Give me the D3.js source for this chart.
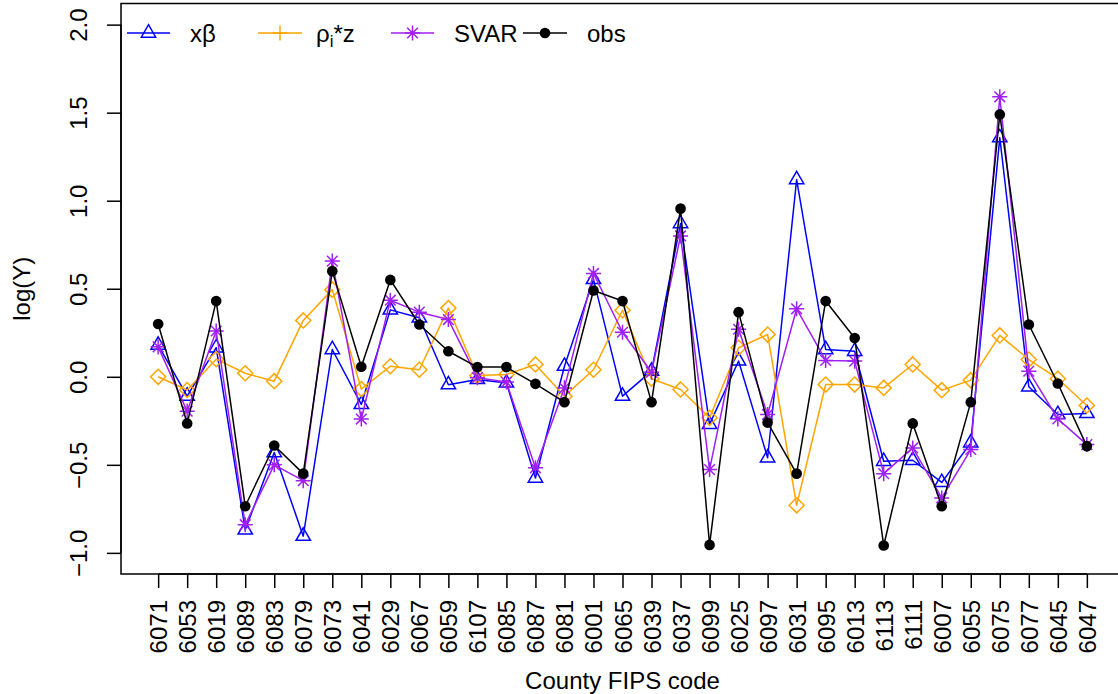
<!DOCTYPE html>
<html>
<head>
<meta charset="utf-8">
<script src="https://cdn.jsdelivr.net/npm/d3@7"></script>
<style>
  html, body { margin: 0; padding: 0; background: #fff; }
  svg { display: block; font-family: "Liberation Sans", Arial, Helvetica, sans-serif; }
</style>
</head>
<body>
<svg id="chart" width="1118" height="694"></svg>
<script>
// ---- data ----
const counties = ["6071","6053","6019","6089","6083","6079","6073","6041","6029","6067","6059","6107","6085","6087","6081","6001","6065","6039","6037","6099","6025","6097","6031","6095","6013","6113","6111","6007","6055","6075","6077","6045","6047"];
const xbeta = [0.18, -0.11, 0.165, -0.87, -0.43, -0.905, 0.155, -0.157, 0.38, 0.335, -0.045, -0.015, -0.035, -0.575, 0.06, 0.553, -0.11, 0.032, 0.87, -0.27, 0.09, -0.46, 1.12, 0.155, 0.145, -0.48, -0.474, -0.6, -0.375, 1.358, -0.057, -0.214, -0.208];
const rhoz  = [0.0, -0.075, 0.10, 0.02, -0.025, 0.32, 0.495, -0.07, 0.06, 0.04, 0.39, 0.007, 0.013, 0.07, -0.11, 0.04, 0.378, -0.011, -0.072, -0.233, 0.165, 0.24, -0.73, -0.044, -0.044, -0.063, 0.07, -0.076, -0.019, 0.235, 0.098, -0.011, -0.163];
const svar  = [0.17, -0.195, 0.26, -0.84, -0.50, -0.59, 0.657, -0.24, 0.435, 0.367, 0.325, -0.005, -0.03, -0.517, -0.063, 0.587, 0.253, 0.026, 0.80, -0.527, 0.27, -0.214, 0.386, 0.093, 0.089, -0.55, -0.404, -0.688, -0.413, 1.59, 0.032, -0.239, -0.385];
const obs   = [0.30, -0.265, 0.43, -0.735, -0.39, -0.55, 0.60, 0.057, 0.55, 0.297, 0.145, 0.055, 0.055, -0.04, -0.144, 0.49, 0.43, -0.144, 0.955, -0.955, 0.367, -0.26, -0.55, 0.43, 0.22, -0.958, -0.265, -0.735, -0.144, 1.49, 0.297, -0.038, -0.394];
const yTicks = [-1.0, -0.5, 0.0, 0.5, 1.0, 1.5, 2.0];
const yLimits = [-1, 2];

// ---- layout ----
const svg = d3.select("#chart");
const plot = {left: 121, right: 1124, top: 3.5, bottom: 574};
const n = counties.length;
const xExt = (n - 1) * 0.04, yExt = (yLimits[1] - yLimits[0]) * 0.04;
const x = d3.scaleLinear().domain([1 - xExt, n + xExt]).range([plot.left, plot.right]);
const y = d3.scaleLinear().domain([yLimits[0] - yExt, yLimits[1] + yExt]).range([plot.bottom, plot.top]);
const FS = 24;
const LW = 1.5;
const S = 5.33; // RADIUS * size

const colors = {xb: "#0000FF", rz: "#FFA500", sv: "#A020F0", ob: "#000000"};

// marker path generators
function triPath(cx, cy) {
  const r = 1.55512 * S, yc = r / 2, xc = 1.55512 * Math.sqrt(3) / 2 * S;
  return `M${cx},${cy - r}L${cx + xc},${cy + yc}L${cx - xc},${cy + yc}Z`;
}
function diaPath(cx, cy) {
  const r = Math.SQRT2 * S;
  return `M${cx},${cy - r}L${cx + r},${cy}L${cx},${cy + r}L${cx - r},${cy}Z`;
}
function plusPath(cx, cy) {
  const r = Math.SQRT2 * S;
  return `M${cx - r},${cy}L${cx + r},${cy}M${cx},${cy - r}L${cx},${cy + r}`;
}
function starPath(cx, cy) {
  const r = S;
  return plusPath(cx, cy) + `M${cx - r},${cy - r}L${cx + r},${cy + r}M${cx - r},${cy + r}L${cx + r},${cy - r}`;
}

const defs = svg.append("defs");
defs.append("clipPath").attr("id", "clip").append("rect")
  .attr("x", plot.left).attr("y", plot.top)
  .attr("width", plot.right - plot.left).attr("height", plot.bottom - plot.top);

const g = svg.append("g").attr("clip-path", "url(#clip)");
const line = d3.line().x((d, i) => x(i + 1)).y(d => y(d));

const series = [
  {vals: xbeta, color: colors.xb, kind: "tri"},
  {vals: rhoz, color: colors.rz, kind: "dia"},
  {vals: svar, color: colors.sv, kind: "star"},
  {vals: obs, color: colors.ob, kind: "dot"}
];

series.forEach(s => {
  g.append("path").attr("d", line(s.vals)).attr("fill", "none")
    .attr("stroke", s.color).attr("stroke-width", LW).attr("stroke-linejoin", "round");
  const sel = g.append("g");
  s.vals.forEach((v, i) => {
    const cx = x(i + 1), cy = y(v);
    if (s.kind === "dot") {
      sel.append("circle").attr("cx", cx).attr("cy", cy).attr("r", S).attr("fill", s.color);
    } else {
      const d = s.kind === "tri" ? triPath(cx, cy) : s.kind === "dia" ? diaPath(cx, cy) : starPath(cx, cy);
      sel.append("path").attr("d", d).attr("fill", "none").attr("stroke", s.color).attr("stroke-width", LW);
    }
  });
});

// box (left, top, bottom)
svg.append("rect").attr("x", plot.left).attr("y", plot.top)
  .attr("width", plot.right - plot.left).attr("height", plot.bottom - plot.top)
  .attr("fill", "none").attr("stroke", "#000").attr("stroke-width", 1.5);

// y axis
const yAxis = svg.append("g").attr("transform", `translate(${plot.left},0)`)
  .call(d3.axisLeft(y).tickValues(yTicks).tickSize(14).tickFormat(d3.format(".1f")));
yAxis.select(".domain").attr("d", `M0,${y(yTicks[0])}V${y(yTicks[yTicks.length - 1])}`).attr("stroke-width", 1.5);
yAxis.selectAll(".tick line").attr("stroke-width", 1.5);
yAxis.selectAll(".tick text")
  .attr("font-size", FS).attr("fill", "#000")
  .attr("x", null).attr("dy", null)
  .attr("text-anchor", "middle")
  .attr("transform", "translate(-34,0) rotate(-90)");

// x axis
const xAxis = svg.append("g").attr("transform", `translate(0,${plot.bottom})`)
  .call(d3.axisBottom(x).tickValues(d3.range(1, n + 1)).tickSize(14).tickFormat(i => counties[i - 1]));
xAxis.select(".domain").attr("d", `M${x(1)},0H${x(n)}`).attr("stroke-width", 1.5);
xAxis.selectAll(".tick line").attr("stroke-width", 1.5);
xAxis.selectAll(".tick text")
  .attr("font-size", FS).attr("fill", "#000")
  .attr("y", null).attr("dy", null)
  .attr("text-anchor", "end")
  .attr("transform", "translate(8.5,26) rotate(-90)");

// axis titles
svg.append("text").attr("font-size", FS).attr("text-anchor", "middle")
  .attr("transform", `translate(30,${(plot.top + plot.bottom) / 2}) rotate(-90)`).text("log(Y)");
svg.append("text").attr("font-size", FS).attr("text-anchor", "middle")
  .attr("x", (plot.left + plot.right) / 2).attr("y", 689).text("County FIPS code");

// legend
const legY = 33;
const legend = [
  {x0: 127, x1: 170, color: colors.xb, kind: "tri", tx: 190, label: "xβ"},
  {x0: 258, x1: 302, color: colors.rz, kind: "plus", tx: 316, label: "rho"},
  {x0: 391, x1: 434, color: colors.sv, kind: "star", tx: 454, label: "SVAR"},
  {x0: 523, x1: 567, color: colors.ob, kind: "dot", tx: 587, label: "obs"}
];
const lg = svg.append("g");
legend.forEach(l => {
  lg.append("line").attr("x1", l.x0).attr("x2", l.x1).attr("y1", legY).attr("y2", legY)
    .attr("stroke", l.color).attr("stroke-width", LW);
  const cx = (l.x0 + l.x1) / 2;
  if (l.kind === "dot") {
    lg.append("circle").attr("cx", cx).attr("cy", legY).attr("r", S).attr("fill", l.color);
  } else {
    const d = l.kind === "tri" ? triPath(cx, legY) : l.kind === "plus" ? plusPath(cx, legY) : starPath(cx, legY);
    lg.append("path").attr("d", d).attr("fill", "none").attr("stroke", l.color).attr("stroke-width", LW);
  }
  const t = lg.append("text").attr("x", l.tx).attr("y", legY + 9).attr("font-size", FS);
  if (l.label === "rho") {
    t.append("tspan").text("ρ");
    t.append("tspan").attr("font-size", FS * 0.7).attr("dy", 5).text("i");
    t.append("tspan").attr("dy", -5).text("*z");
  } else {
    t.text(l.label);
  }
});
</script>
</body>
</html>
